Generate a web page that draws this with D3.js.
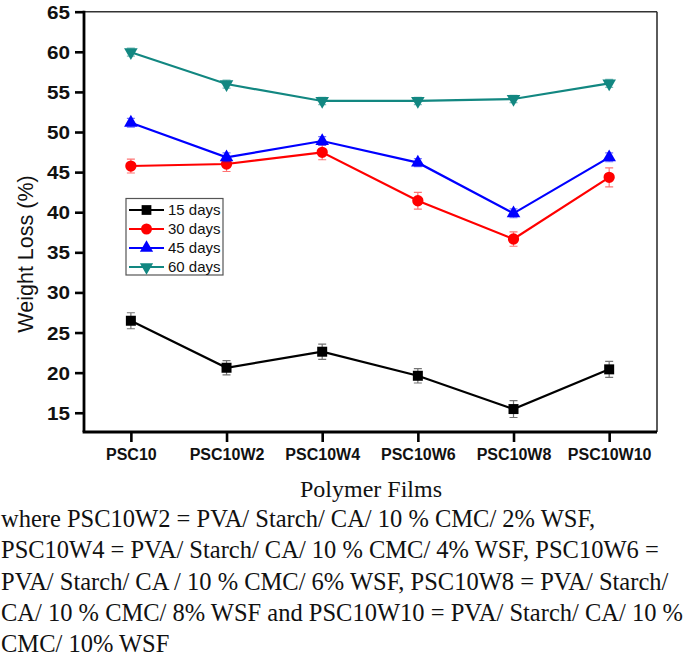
<!DOCTYPE html>
<html><head><meta charset="utf-8">
<script src="https://cdn.jsdelivr.net/npm/d3@7"></script>
<style>body{margin:0;background:#fff}svg{display:block}</style>
</head><body>
<script>
const categories = ["PSC10","PSC10W2","PSC10W4","PSC10W6","PSC10W8","PSC10W10"];
const seriesNames = ["15 days","30 days","45 days","60 days"];
const days15 = [26.47, 20.61, 22.61, 19.61, 15.46, 20.41];
const days30 = [45.76, 46.01, 47.47, 41.43, 36.66, 44.35];
const days45 = [51.16, 46.84, 48.88, 46.18, 39.86, 46.84];
const days60 = [59.95, 55.98, 53.87, 53.87, 54.12, 56.07];
const err15 = [1.0, 0.9, 0.95, 0.9, 1.05, 1.0];
const err30 = [0.87, 0.93, 0.93, 1.05, 0.9, 1.18];
const err45 = [0.55, 0.55, 0.55, 0.5, 0.55, 0.55];
const err60 = [0.5, 0.5, 0.45, 0.45, 0.45, 0.5];
const yTicks = [15,20,25,30,35,40,45,50,55,60,65];
const footLines = [
 "where PSC10W2 = PVA/ Starch/ CA/ 10 % CMC/ 2% WSF,",
 "PSC10W4 = PVA/ Starch/ CA/ 10 % CMC/ 4% WSF, PSC10W6 =",
 "PVA/ Starch/ CA / 10 % CMC/ 6% WSF, PSC10W8 = PVA/ Starch/",
 "CA/ 10 % CMC/ 8% WSF and PSC10W10 = PVA/ Starch/ CA/ 10 %",
 "CMC/ 10% WSF"
];

const series = [
 {name: seriesNames[0], values: days15, err: err15, color: "#000000", sym: d3.symbolSquare, size: 100, rot: 0},
 {name: seriesNames[1], values: days30, err: err30, color: "#ff0000", sym: d3.symbolCircle, size: 100, rot: 0},
 {name: seriesNames[2], values: days45, err: err45, color: "#0000ff", sym: d3.symbolTriangle, size: 80, rot: 0},
 {name: seriesNames[3], values: days60, err: err60, color: "#128781", sym: d3.symbolTriangle, size: 80, rot: 180}
];

const W = 685, H = 666;
const L = 84, R = 657, T = 11.7, B = 432;
const svg = d3.select("body").append("svg").attr("width", W).attr("height", H);

const x = d3.scaleLinear().domain([-0.49, 5.5]).range([L, R]);
const y = d3.scaleLinear().domain([12.6, 65]).range([B, T]);

// frame top/right
svg.append("line").attr("x1", L).attr("x2", R).attr("y1", T).attr("y2", T).attr("stroke", "#333").attr("stroke-width", 1.6);
svg.append("line").attr("x1", R).attr("x2", R).attr("y1", T).attr("y2", B).attr("stroke", "#333").attr("stroke-width", 1.6);

// y axis
const yAxis = svg.append("g").attr("transform", `translate(${L},0)`)
  .call(d3.axisLeft(y).tickValues(yTicks).tickSize(9).tickSizeOuter(0).tickPadding(4));
yAxis.select(".domain").attr("stroke-width", 2.8).attr("d", `M0,${T - 1}V${B}`);
yAxis.selectAll(".tick line").attr("stroke-width", 2.6);
yAxis.selectAll(".tick text")
  .attr("font-family", "Liberation Sans, Arial, sans-serif").attr("font-weight", "bold")
  .attr("font-size", 18).attr("fill", "#111")
  .attr("transform", "scale(1.15,1)")
  .attr("x", -14 / 1.15)
  .attr("dy", "0.36em");

// x axis
const xAxis = svg.append("g").attr("transform", `translate(0,${B})`)
  .call(d3.axisBottom(x).tickValues(d3.range(categories.length)).tickFormat(i => categories[i]).tickSize(10).tickSizeOuter(0).tickPadding(7));
xAxis.select(".domain").attr("stroke-width", 2.8).attr("d", `M${L - 1.4},0H${R}`);
xAxis.selectAll(".tick line").attr("stroke-width", 2.6);
xAxis.selectAll(".tick text")
  .attr("font-family", "Liberation Sans, Arial, sans-serif").attr("font-weight", "bold")
  .attr("font-size", 16).attr("fill", "#111");

// axis titles
svg.append("text").attr("transform", `translate(33,254) rotate(-90)`)
  .attr("text-anchor", "middle").attr("font-family", "Liberation Sans, Arial, sans-serif")
  .attr("font-size", 21.5).attr("fill", "#111").text("Weight Loss (%)");
svg.append("text").attr("x", 371).attr("y", 497).attr("text-anchor", "middle")
  .attr("font-family", "Liberation Serif, Times New Roman, serif")
  .attr("font-size", 24).attr("fill", "#111").text("Polymer Films");

// series
const line = d3.line().x((d, i) => x(i)).y(d => y(d));
series.forEach(s => {
  const g = svg.append("g");
  g.append("path").attr("d", line(s.values)).attr("fill", "none").attr("stroke", s.color).attr("stroke-width", 2.2);
  s.values.forEach((v, i) => {
    const e = s.err[i], cx = x(i);
    g.append("path").attr("d", `M${cx},${y(v - e)}V${y(v + e)}M${cx-4},${y(v+e)}H${cx+4}M${cx-4},${y(v-e)}H${cx+4}`)
      .attr("stroke", s.color).attr("stroke-opacity", 0.55).attr("stroke-width", 1.2).attr("fill", "none");
    g.append("path").attr("d", d3.symbol().type(s.sym).size(s.size)())
      .attr("transform", `translate(${cx},${y(v)}) rotate(${s.rot})`).attr("fill", s.color);
  });
});

// legend
const lg = svg.append("g");
lg.append("rect").attr("x", 126).attr("y", 198.5).attr("width", 97).attr("height", 76.5)
  .attr("fill", "#fff").attr("stroke", "#555").attr("stroke-width", 1.2);
series.forEach((s, k) => {
  const yy = 210 + k * 19;
  lg.append("line").attr("x1", 129).attr("x2", 164).attr("y1", yy).attr("y2", yy).attr("stroke", s.color).attr("stroke-width", 2.2);
  lg.append("path").attr("d", d3.symbol().type(s.sym).size(s.size * 0.95)())
    .attr("transform", `translate(146.5,${yy}) rotate(${s.rot})`).attr("fill", s.color);
  lg.append("text").attr("x", 168).attr("y", yy).attr("dy", "0.36em")
    .attr("font-family", "Liberation Sans, Arial, sans-serif").attr("font-size", 15).attr("fill", "#111").text(s.name);
});

// footnote
footLines.forEach((t, i) => {
  svg.append("text").attr("x", 1).attr("y", 527 + i * 31.3)
    .attr("font-family", "Liberation Serif, Times New Roman, serif").attr("font-size", 24.5).attr("fill", "#111").text(t);
});
</script>
</body></html>
